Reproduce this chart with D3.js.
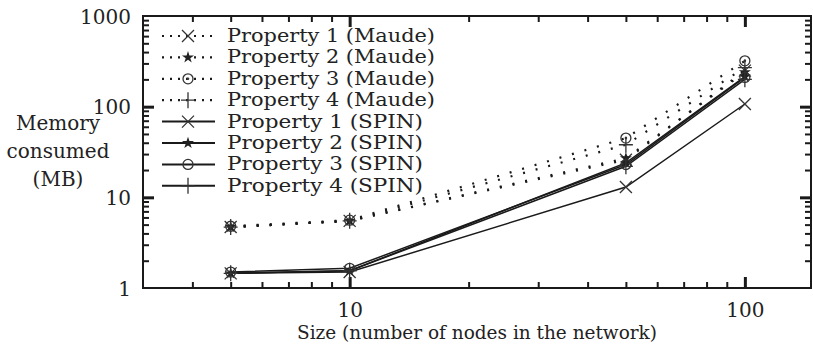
<!DOCTYPE html>
<html>
<head>
<meta charset="utf-8">
<script src="https://cdn.jsdelivr.net/npm/d3@7"></script>
<style>
  html, body { margin: 0; padding: 0; background: #fff; }
  svg { display: block; }
  text { font-family: 'DejaVu Serif', serif; fill: #222; }
</style>
</head>
<body>
<svg id="chart" width="813" height="353"></svg>
<script>
// ---- data ----
const sizes = [5, 10, 50, 100];
const maudeP1 = [4.7, 5.5, 26, 250];
const maudeP2 = [4.7, 5.5, 27, 240];
const maudeP3 = [4.8, 5.6, 45, 320];
const maudeP4 = [4.7, 5.5, 38, 270];
const spinP1 = [1.45, 1.5, 13, 107];
const spinP2 = [1.45, 1.55, 24, 215];
const spinP3 = [1.5, 1.65, 23, 210];
const spinP4 = [1.45, 1.55, 22, 200];
const seriesNames = ["Property 1 (Maude)", "Property 2 (Maude)", "Property 3 (Maude)", "Property 4 (Maude)",
                     "Property 1 (SPIN)", "Property 2 (SPIN)", "Property 3 (SPIN)", "Property 4 (SPIN)"];
const seriesValues = [maudeP1, maudeP2, maudeP3, maudeP4, spinP1, spinP2, spinP3, spinP4];
const seriesMarkers = ["cross", "star", "odot", "plus", "cross", "star", "circle", "plus"];
const seriesDotted = [true, true, true, true, false, false, false, false];
const xMajorTicks = [10, 100];
const xMinorTicks = [4, 5, 6, 7, 8, 9, 20, 30, 40, 50, 60, 70, 80, 90];
const yMajorTicks = [1, 10, 100, 1000];
const yMinorTicks = [2,3,4,5,6,7,8,9,20,30,40,50,60,70,80,90,200,300,400,500,600,700,800,900];
const xTitle = "Size (number of nodes in the network)";
const yTitleLines = ["Memory", "consumed", "(MB)"];

// ---- layout ----
const L = 143, R = 811, T = 16, B = 288;
const svg = d3.select("#chart");
const x = d3.scaleLog().domain([3, 147]).range([L, R]);
const y = d3.scaleLog().domain([1, 1000]).range([B, T]);
const FS = 20;
const ink = "#1a1a1a";

function styleAxis(g, w) {
  g.attr("font-family", null);
  g.select(".domain").remove();
  g.selectAll(".tick line").attr("stroke", ink).attr("stroke-width", w);
  g.selectAll(".tick text").remove();
}
const MAJ = 11, MIN = 6;
svg.append("g").attr("transform", `translate(0,${B})`)
  .call(d3.axisBottom(x).tickValues(xMinorTicks).tickSize(-MIN)).call(g => styleAxis(g, 2));
svg.append("g").attr("transform", `translate(0,${B})`)
  .call(d3.axisBottom(x).tickValues(xMajorTicks).tickSize(-MAJ)).call(g => styleAxis(g, 3));
svg.append("g").attr("transform", `translate(0,${T})`)
  .call(d3.axisTop(x).tickValues(xMinorTicks).tickSize(-MIN)).call(g => styleAxis(g, 2));
svg.append("g").attr("transform", `translate(0,${T})`)
  .call(d3.axisTop(x).tickValues(xMajorTicks).tickSize(-MAJ)).call(g => styleAxis(g, 3));
svg.append("g").attr("transform", `translate(${L},0)`)
  .call(d3.axisLeft(y).tickValues(yMinorTicks).tickSize(-MIN)).call(g => styleAxis(g, 2));
svg.append("g").attr("transform", `translate(${L},0)`)
  .call(d3.axisLeft(y).tickValues(yMajorTicks.slice(1, 3)).tickSize(-MAJ)).call(g => styleAxis(g, 3));
svg.append("g").attr("transform", `translate(${R},0)`)
  .call(d3.axisRight(y).tickValues(yMinorTicks).tickSize(-MIN)).call(g => styleAxis(g, 2));
svg.append("g").attr("transform", `translate(${R},0)`)
  .call(d3.axisRight(y).tickValues(yMajorTicks.slice(1, 3)).tickSize(-MAJ)).call(g => styleAxis(g, 3));

// tick labels
const xl = svg.append("g").attr("transform", `translate(0,${B})`)
  .call(d3.axisBottom(x).tickValues(xMajorTicks).tickSize(0).tickPadding(0).tickFormat(d3.format("d")));
xl.attr("font-family", null).select(".domain").remove();
xl.selectAll("text").attr("font-size", FS).attr("fill", ink).attr("dy", null).attr("y", 29);
const yl = svg.append("g").attr("transform", `translate(${L},0)`)
  .call(d3.axisLeft(y).tickValues(yMajorTicks).tickSize(0).tickPadding(0).tickFormat(d3.format("d")));
yl.attr("font-family", null).select(".domain").remove();
yl.selectAll("text").attr("font-size", FS).attr("fill", ink).attr("dy", null).attr("x", -12).attr("y", 7);

// frame
svg.append("rect").attr("x", L).attr("y", T).attr("width", R - L).attr("height", B - T)
  .attr("fill", "none").attr("stroke", ink).attr("stroke-width", 2);

// titles
svg.append("text").attr("x", 477).attr("y", 339).attr("text-anchor", "middle").attr("font-size", 19)
  .attr("textLength", 360).attr("lengthAdjust", "spacingAndGlyphs").text(xTitle);
svg.append("g").selectAll("text").data(yTitleLines).join("text")
  .attr("x", 58).attr("y", (d, i) => 130 + i * 28).attr("text-anchor", "middle").attr("font-size", FS).text(d => d);

// markers
function drawMarker(g, type, cx, cy) {
  const s = 6;
  const app = (sel) => sel.attr("stroke", "#333").attr("stroke-width", 1.3).attr("fill", "none");
  if (type === "cross") {
    app(g.append("path").attr("d", `M${cx-s},${cy-s}L${cx+s},${cy+s}M${cx-s},${cy+s}L${cx+s},${cy-s}`));
  } else if (type === "plus") {
    app(g.append("path").attr("d", `M${cx-s-1},${cy}L${cx+s+1},${cy}M${cx},${cy-s-2}L${cx},${cy+s+2}`));
  } else if (type === "star") {
    g.append("path").attr("d", d3.symbol(d3.symbolStar, 45)()).attr("transform", `translate(${cx},${cy})`).attr("fill", "#222");
  } else if (type === "circle") {
    app(g.append("circle").attr("cx", cx).attr("cy", cy).attr("r", 5));
  } else if (type === "odot") {
    app(g.append("circle").attr("cx", cx).attr("cy", cy).attr("r", 5));
    g.append("circle").attr("cx", cx).attr("cy", cy).attr("r", 1.3).attr("fill", "#333");
  }
}

// series
const line = d3.line().x(d => x(d[0])).y(d => y(d[1]));
const plot = svg.append("g");
seriesValues.forEach((vals, i) => {
  const pts = sizes.map((s, j) => [s, vals[j]]);
  plot.append("path").attr("d", line(pts)).attr("fill", "none").attr("stroke", ink)
    .attr("stroke-width", seriesDotted[i] ? 2.2 : 1.5)
    .attr("stroke-dasharray", seriesDotted[i] ? "2,11" : null);
});
seriesValues.forEach((vals, i) => {
  const g = plot.append("g");
  sizes.forEach((s, j) => drawMarker(g, seriesMarkers[i], x(s), y(vals[j])));
});

// legend
const leg = svg.append("g");
seriesNames.forEach((name, i) => {
  const cy = 36 + i * 21.4;
  leg.append("line").attr("x1", 162).attr("x2", 215).attr("y1", cy).attr("y2", cy)
    .attr("stroke", ink).attr("stroke-width", seriesDotted[i] ? 2.2 : 2)
    .attr("stroke-dasharray", seriesDotted[i] ? "2,6" : null);
  drawMarker(leg.append("g"), seriesMarkers[i], 188, cy);
  leg.append("text").attr("x", 227).attr("y", cy + 6).attr("font-size", 18)
    .attr("textLength", seriesDotted[i] ? 208 : 196).attr("lengthAdjust", "spacingAndGlyphs").text(name);
});
</script>
</body>
</html>
